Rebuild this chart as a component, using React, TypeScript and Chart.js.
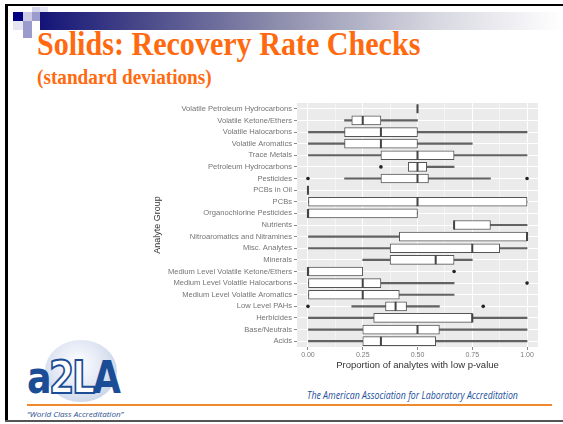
import React, { useEffect, useLayoutEffect, useRef, useState } from "react";
import { Chart, registerables } from "chart.js";

Chart.register(...registerables);

const categories = [
  "Volatile Petroleum Hydrocarbons",
  "Volatile Ketone/Ethers",
  "Volatile Halocarbons",
  "Volatile Aromatics",
  "Trace Metals",
  "Petroleum Hydrocarbons",
  "Pesticides",
  "PCBs in Oil",
  "PCBs",
  "Organochlorine Pesticides",
  "Nutrients",
  "Nitroaromatics and Nitramines",
  "Misc. Analytes",
  "Minerals",
  "Medium Level Volatile Ketone/Ethers",
  "Medium Level Volatile Halocarbons",
  "Medium Level Volatile Aromatics",
  "Low Level PAHs",
  "Herbicides",
  "Base/Neutrals",
  "Acids",
];

const whiskerLow = [0.5, 0.167, 0, 0, 0, 0.458, 0.167, 0, 0, 0, 0.667, 0, 0, 0.25, 0, 0, 0, 0.2, 0, 0, 0];
const q1 = [0.5, 0.2, 0.167, 0.167, 0.333, 0.458, 0.333, 0, 0, 0, 0.667, 0.417, 0.375, 0.375, 0, 0, 0, 0.354, 0.3, 0.25, 0.25];
const medians = [0.5, 0.25, 0.333, 0.333, 0.5, 0.5, 0.5, 0, 0.5, 0, 0.667, 1, 0.75, 0.583, 0, 0.25, 0.25, 0.4, 0.75, 0.5, 0.333];
const q3 = [0.5, 0.333, 0.5, 0.5, 0.667, 0.542, 0.55, 0, 1, 0.5, 0.833, 1, 0.875, 0.667, 0.25, 0.333, 0.417, 0.45, 0.75, 0.6, 0.583];
const whiskerHigh = [0.5, 0.5, 1, 0.75, 1, 0.667, 0.833, 0, 1, 0.5, 1, 1, 1, 0.75, 0.25, 0.667, 0.667, 0.6, 1, 1, 1];

const outlierGroups = ["Petroleum Hydrocarbons", "Pesticides", "Pesticides", "Medium Level Volatile Ketone/Ethers", "Medium Level Volatile Halocarbons", "Low Level PAHs", "Low Level PAHs"];
const outlierValues = [0.333, 0, 1, 0.667, 1, 0, 0.8];

const xTicks = [0, 0.125, 0.25, 0.375, 0.5, 0.625, 0.75, 0.875, 1];
const majorTicks = [0, 0.25, 0.5, 0.75, 1];

const SANS = "'Liberation Sans', Arial, sans-serif";

const panelBg = {
  id: "panelBg",
  beforeDraw(chart: any) {
    const { ctx, chartArea } = chart;
    ctx.save();
    ctx.fillStyle = "#ebebeb";
    ctx.fillRect(chartArea.left, chartArea.top, chartArea.width, chartArea.height);
    ctx.restore();
  },
};

const isMajor = (v: number) => majorTicks.some((m) => Math.abs(m - v) < 1e-6);

function BoxChart() {
  const ref = useRef<HTMLCanvasElement>(null);
  useEffect(() => {
    const chart = new Chart(ref.current!, {
      type: "bar",
      data: {
        labels: categories,
        datasets: [
          {
            type: "bar",
            data: categories.map((_, i) => [whiskerLow[i], whiskerHigh[i]]),
            backgroundColor: "#626262",
            borderWidth: 0,
            barThickness: 1.5,
            grouped: false,
            order: 3,
          } as any,
          {
            type: "bar",
            data: categories.map((_, i) => [q1[i], q3[i]]),
            backgroundColor: "#ffffff",
            borderColor: "#555555",
            borderWidth: 1,
            borderSkipped: false,
            barThickness: 9,
            grouped: false,
            order: 2,
          } as any,
          {
            type: "scatter",
            data: categories.map((c, i) => ({ x: medians[i], y: c })),
            pointStyle: "line",
            rotation: 90,
            radius: 4.5,
            borderWidth: 2,
            borderColor: "#444444",
            order: 1,
          } as any,
          {
            type: "scatter",
            data: outlierGroups.map((c, i) => ({ x: outlierValues[i], y: c })),
            pointStyle: "circle",
            radius: 1.8,
            backgroundColor: "#222222",
            borderWidth: 0,
            order: 0,
          } as any,
        ],
      },
      options: {
        indexAxis: "y",
        responsive: false,
        animation: false,
        layout: { padding: { top: 8, right: 10, left: 0, bottom: 0 } },
        plugins: { legend: { display: false }, tooltip: { enabled: false } },
        scales: {
          x: {
            type: "linear",
            min: -0.05,
            max: 1.05,
            afterBuildTicks: (s: any) => {
              s.ticks = xTicks.map((v) => ({ value: v }));
            },
            afterFit: (s: any) => {
              s.height = 25;
            },
            ticks: {
              autoSkip: false,
              maxRotation: 0,
              padding: 1,
              color: "#7a7a7a",
              font: { family: SANS, size: 7 },
              callback: (v: any) => (isMajor(Number(v)) ? Number(v).toFixed(2) : ""),
            },
            grid: {
              color: "#ffffff",
              lineWidth: (c: any) => (c.tick && isMajor(c.tick.value) ? 1 : 0.5),
              tickColor: (c: any) => (c.tick && isMajor(c.tick.value) ? "#888888" : "rgba(0,0,0,0)"),
              tickLength: 3,
            },
            border: { display: false },
            title: {
              display: true,
              text: "Proportion of analytes with low p-value",
              color: "#333333",
              font: { family: SANS, size: 9.5 },
              padding: { top: 0, bottom: 1 },
            },
          },
          y: {
            type: "category",
            offset: true,
            afterFit: (s: any) => {
              s.width = 149;
            },
            ticks: {
              autoSkip: false,
              padding: 2,
              color: "#747474",
              font: { family: SANS, size: 7.6 },
            },
            grid: {
              offset: false,
              color: "#ffffff",
              lineWidth: 1,
              tickColor: "#888888",
              tickLength: 3,
            },
            border: { display: false },
            title: {
              display: true,
              text: "Analyte Group",
              color: "#333333",
              font: { family: SANS, size: 9 },
              padding: { top: 4, bottom: 0 },
            },
          },
        },
      } as any,
      plugins: [panelBg],
    });
    return () => chart.destroy();
  }, []);
  return (
    <canvas
      ref={ref}
      width={400}
      height={277}
      style={{ position: "absolute", left: 148, top: 95, width: 400, height: 277 }}
    />
  );
}

function FitText(props: { left: number; top: number; width: number; style: React.CSSProperties; children: React.ReactNode }) {
  const ref = useRef<HTMLDivElement>(null);
  const [sx, setSx] = useState(1);
  useLayoutEffect(() => {
    if (ref.current) {
      const w = ref.current.offsetWidth;
      if (w > 0) setSx(props.width / w);
    }
  }, [props.width]);
  return (
    <div
      ref={ref}
      style={{
        position: "absolute",
        left: props.left,
        top: props.top,
        whiteSpace: "nowrap",
        display: "inline-block",
        lineHeight: 1,
        transformOrigin: "left top",
        transform: `scaleX(${sx})`,
        ...props.style,
      }}
    >
      {props.children}
    </div>
  );
}

const sq = (l: number, t: number, w: number, h: number, c: string) => (
  <div style={{ position: "absolute", left: l, top: t, width: w, height: h, background: c }} />
);

export default function App() {
  return (
    <div style={{ position: "fixed", left: 0, top: 0, width: 563, height: 424, background: "#ffffff", overflow: "hidden" }}>
      {/* frame */}
      <div style={{ position: "absolute", left: 5, top: 4, width: 558, height: 2, background: "#000" }} />
      <div style={{ position: "absolute", left: 5, top: 4, width: 3, height: 418, background: "#000" }} />
      <div style={{ position: "absolute", left: 5, top: 420, width: 558, height: 2, background: "#555" }} />

      {/* header bar */}
      <div
        style={{
          position: "absolute",
          left: 40,
          top: 12,
          width: 523,
          height: 18,
          background: "linear-gradient(to right, #141478 0%, #4a4a8a 20%, #8c8cac 45%, #d6d6e0 75%, #ffffff 100%)",
        }}
      />
      {sq(13, 12, 10, 9, "#000080")}
      {sq(23, 12, 9, 9, "#cbcbe6")}
      {sq(32, 12, 8, 9, "#9c9ccc")}
      {sq(32, 7, 8, 5, "#d4d4ea")}
      {sq(40, 7, 8, 5, "#e4e4f2")}
      {sq(13, 21, 10, 9, "#e6e6f3")}
      {sq(23, 21, 9, 9, "#9c9ccc")}
      {sq(23, 30, 9, 8, "#9c9ccc")}

      <FitText left={37} top={26.5} width={383} style={{ fontFamily: "'Liberation Serif', serif", fontWeight: 700, fontSize: 34, color: "#ff6a10" }}>
        Solids: Recovery Rate Checks
      </FitText>
      <FitText left={37} top={67.3} width={175} style={{ fontFamily: "'Liberation Serif', serif", fontWeight: 700, fontSize: 20, color: "#ff6a10" }}>
        (standard deviations)
      </FitText>

      <BoxChart />

      {/* footer */}
      <div style={{ position: "absolute", left: 27, top: 404, width: 525, height: 2, background: "#f0892e" }} />
      <div
        style={{
          position: "absolute",
          left: 45,
          top: 340,
          width: 72,
          height: 62,
          borderRadius: "50%",
          background: "radial-gradient(circle at 45% 40%, #ffffff 0%, #e2e8f4 45%, #b9c6df 100%)",
        }}
      />
      <FitText
        left={27}
        top={356}
        width={91}
        style={{ fontFamily: "'DejaVu Sans', sans-serif", fontWeight: 900, fontSize: 44, color: "#1b4d96", letterSpacing: -3 }}
      >
        <span>a</span>
        <span style={{ color: "#ffffff", WebkitTextStroke: "2px #1b4d96" }}>2</span>
        <span style={{ color: "#ffffff", WebkitTextStroke: "2px #1b4d96" }}>L</span>
        <span>A</span>
      </FitText>
      <FitText left={27} top={410} width={96} style={{ fontFamily: "'Open Sans', sans-serif", fontStyle: "italic", fontSize: 8, color: "#2a4f8f" }}>
        {"\u201CWorld Class Accreditation\u201D"}
      </FitText>
      <FitText left={307} top={390} width={211} style={{ fontFamily: "'Open Sans', sans-serif", fontStyle: "italic", fontSize: 10, color: "#1d4f9c" }}>
        The American Association for Laboratory Accreditation
      </FitText>
    </div>
  );
}
